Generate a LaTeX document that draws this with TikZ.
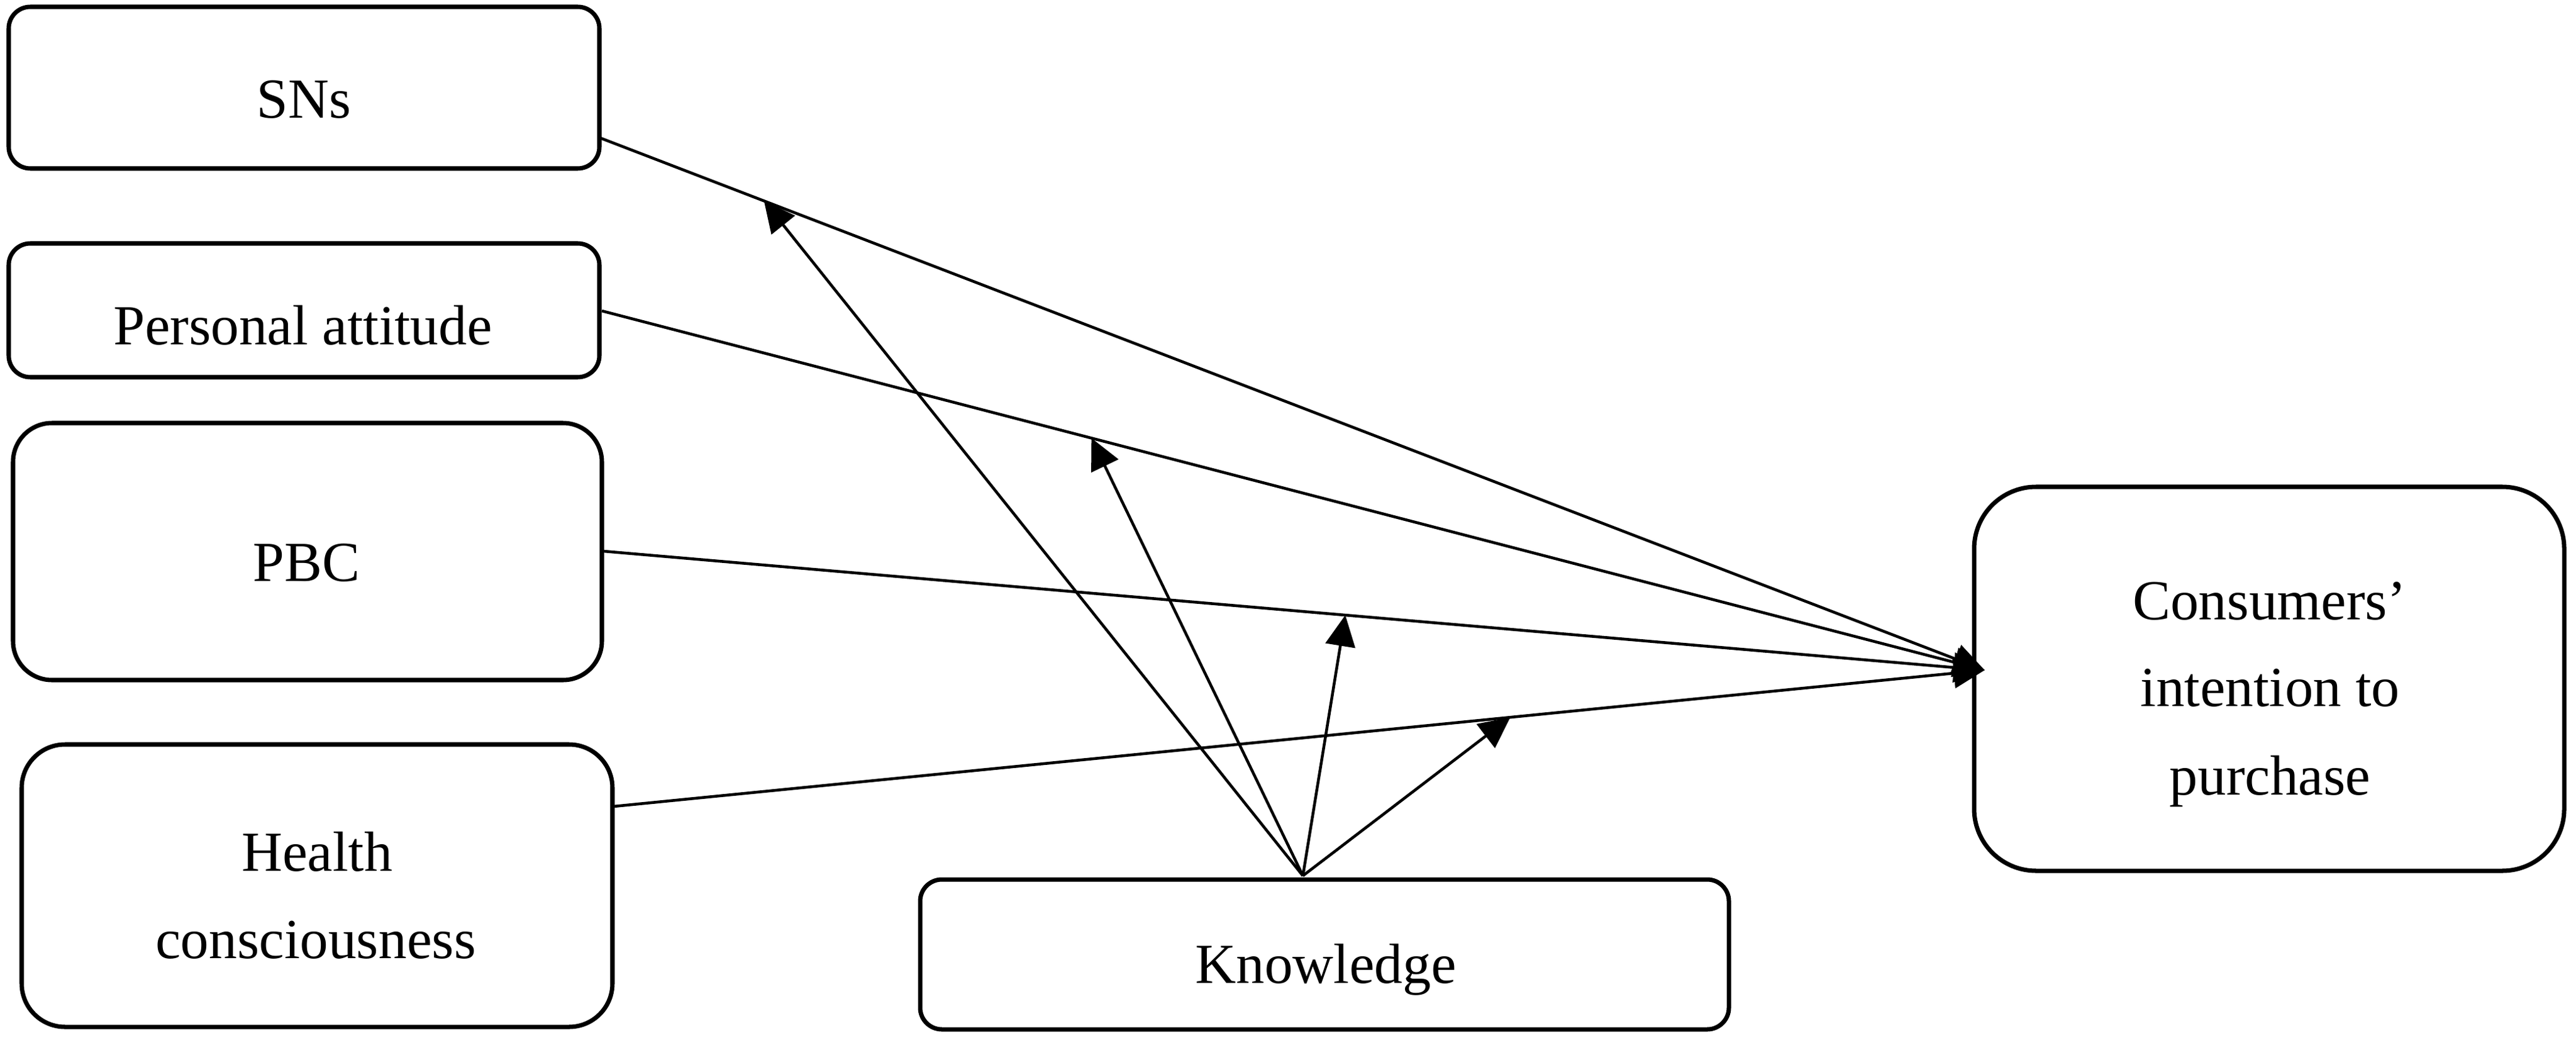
\documentclass[tikz,border=0pt]{standalone}
\usepackage{fontspec}
\setmainfont{Liberation Serif}
\usetikzlibrary{arrows.meta,calc}
\begin{document}
\begin{tikzpicture}[
  box/.style={draw=black, line width=2pt, rectangle, inner sep=0pt, outer sep=0pt},
  lbl/.style={inner sep=0pt, outer sep=0pt, anchor=base, font=\fontsize{26}{40}\selectfont},
  arr/.style={line width=1.3pt, -{Triangle[length=0.5cm,width=0.48cm]}},
]
\useasboundingbox[fill=white] (0,0) rectangle (41.6,-16.83);
% boxes
\node[box, rounded corners=0.35cm, minimum width=9.54cm, minimum height=2.61cm] (sns) at (4.91,-1.415) {};
\node[box, rounded corners=0.35cm, minimum width=9.54cm, minimum height=2.16cm] (pa) at (4.91,-5.01) {};
\node[box, rounded corners=0.63cm, minimum width=9.51cm, minimum height=4.15cm] (pbc) at (4.965,-8.905) {};
\node[box, rounded corners=0.70cm, minimum width=9.54cm, minimum height=4.56cm] (hc) at (5.12,-14.30) {};
\node[box, rounded corners=0.35cm, minimum width=13.06cm, minimum height=2.42cm] (know) at (21.39,-15.41) {};
\node[box, rounded corners=1.0cm, minimum width=9.53cm, minimum height=6.20cm] (cons) at (36.645,-10.96) {};
% texts
\node[lbl] (snsT) at (4.91,-1.91) {SNs};
\node[lbl] (paT) at (4.89,-5.56) {Personal attitude};
\node[lbl] (pbcT) at (4.95,-9.38) {PBC};
\node[lbl] (hcT1) at (5.12,-14.06) {Health};
\node[lbl] (hcT2) at (5.10,-15.47) {consciousness};
\node[lbl] (knowT) at (21.41,-15.87) {Knowledge};
\node[lbl] (consT1) at (36.65,-10.00) {Consumers’};
\node[lbl] (consT2) at (36.66,-11.40) {intention to};
\node[lbl] (consT3) at (36.66,-12.83) {purchase};
% points
\coordinate (tip) at ($(cons.west)+(0.17,0.14)$);
\coordinate (ko) at ($(know.north)+(-0.35,0.06)$);
% main paths
\draw[arr] ($(sns.south east)+(0.02,0.49)$) -- coordinate[pos=0.118] (m1) (tip);
\draw[arr] ($(pa.south east)+(0.04,1.07)$) -- coordinate[pos=0.354] (m2) (tip);
\draw[arr] ($(pbc.south east)+(0.03,2.08)$) -- coordinate[pos=0.537] (m3) (tip);
\draw[arr] ($(hc.south east)+(0.02,3.56)$) -- coordinate[pos=0.654] (m4) (tip);
% moderating paths
\draw[arr] (ko) -- (m1);
\draw[arr] (ko) -- (m2);
\draw[arr] (ko) -- (m3);
\draw[arr] (ko) -- (m4);
\end{tikzpicture}
\end{document}
